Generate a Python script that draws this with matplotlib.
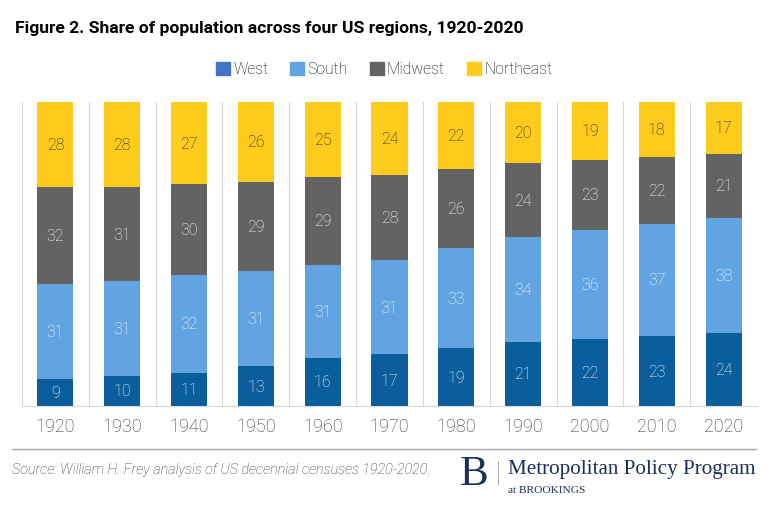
import numpy as np
import matplotlib.pyplot as plt
from matplotlib.patches import Patch

years = ['1920', '1930', '1940', '1950', '1960', '1970', '1980', '1990', '2000', '2010', '2020']
west = [9, 10, 11, 13, 16, 17, 19, 21, 22, 23, 24]
south = [31, 31, 32, 31, 31, 31, 33, 34, 36, 37, 38]
midwest = [32, 31, 30, 29, 29, 28, 26, 24, 23, 22, 21]
northeast = [28, 28, 27, 26, 25, 24, 22, 20, 19, 18, 17]

regions = ['West', 'South', 'Midwest', 'Northeast']
bar_colors = ['#0b5e9c', '#62a3e2', '#636363', '#ffcb1d']
legend_colors = ['#4472c4', '#62a3e2', '#636363', '#ffcb1d']
label_colors = ['white', 'white', 'white', '#222222']

plt.rcParams['font.family'] = ['Roboto', 'DejaVu Sans']

fig = plt.figure(figsize=(7.68, 5.1), dpi=100)
ax = fig.add_axes([22 / 768, 1 - 407 / 510, 735 / 768, 304 / 510])

# 100% stacked: values are rounded so scale each column to its total
data = np.array([west, south, midwest, northeast], dtype=float)
totals = data.sum(axis=0)
shares = data / totals * 100
x = np.arange(len(years))
bottom = np.zeros(len(years))
for i, name in enumerate(regions):
    ax.bar(x, shares[i], 0.54, bottom=bottom, color=bar_colors[i], zorder=2)
    for j in range(len(years)):
        ax.text(x[j], bottom[j] + shares[i][j] / 2, str(int(data[i][j])),
                ha='center', va='center', fontsize=11.5, fontweight='light',
                color=label_colors[i], zorder=3)
    bottom += shares[i]

ax.set_xlim(-0.5, len(years) - 0.5)
ax.set_ylim(0, 100)
for b in np.arange(-0.5, len(years), 1.0):
    ax.axvline(b, color='#d9d9d9', lw=0.8, zorder=1)
ax.set_yticks([])
ax.set_xticks(x)
ax.set_xticklabels(years, fontsize=13, fontweight='light', color='#333333')
ax.tick_params(axis='x', length=0, pad=8)
for s in ['top', 'left', 'right']:
    ax.spines[s].set_visible(False)
ax.spines['bottom'].set_color('#d9d9d9')

fig.text(15 / 768, 1 - 28 / 510, 'Figure 2. Share of population across four US regions, 1920-2020',
         fontsize=12.6, fontweight='bold', va='center', color='black')

handles = [Patch(color=c, label=r) for r, c in zip(regions, legend_colors)]
fig.legend(handles=handles, loc='center', bbox_to_anchor=(384 / 768, 1 - 70 / 510), ncol=4,
           frameon=False, handlelength=0.9, handleheight=0.9,
           handletextpad=0.2, columnspacing=1.4, prop={'weight': 'light', 'size': 11.3})

fig.add_artist(plt.Line2D([12 / 768, 756 / 768], [1 - 450 / 510, 1 - 450 / 510],
                          color='#a6a6a6', lw=1))
fig.text(12 / 768, 1 - 470 / 510, 'Source: William H. Frey analysis of US decennial censuses 1920-2020.',
         fontsize=10.4, style='italic', fontweight='light', va='center', color='#333333')

navy = '#1b2f5c'
fig.text(474 / 768, 1 - 475 / 510, 'B', family='Liberation Serif', fontsize=31, color=navy,
         ha='center', va='center')
fig.add_artist(plt.Line2D([498 / 768, 498 / 768], [1 - 462 / 510, 1 - 485 / 510],
                          color='#999999', lw=0.6))
fig.text(508 / 768, 1 - 470 / 510, 'Metropolitan Policy Program', family='Liberation Serif',
         fontsize=15.2, color=navy, va='center')
fig.text(508 / 768, 1 - 491 / 510, 'at BROOKINGS', family='Liberation Serif',
         fontsize=8.2, color=navy, va='center')

fig.savefig('out.png', dpi=100)
